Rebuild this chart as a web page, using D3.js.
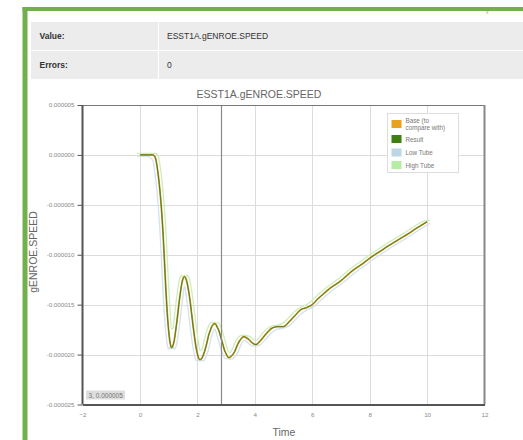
<!DOCTYPE html>
<html>
<head>
<meta charset="utf-8">
<script src="https://cdn.jsdelivr.net/npm/d3@7"></script>
<style>
  html, body { margin: 0; padding: 0; background: #fff; }
  svg { display: block; font-family: "Liberation Sans", Arial, sans-serif; }
</style>
</head>
<body>
<svg id="page" width="523" height="440"></svg>
<script>
// Result signal ESST1A.gENROE.SPEED
const times = [
  0.00, 0.25, 0.45, 0.50, 0.55, 0.60, 0.65, 0.70, 0.75, 0.80, 0.85, 0.90, 0.95, 1.00, 1.05,
  1.10, 1.15, 1.20, 1.25, 1.30, 1.35, 1.40, 1.45, 1.50, 1.55, 1.60, 1.65, 1.70, 1.75, 1.80,
  1.85, 1.90, 1.95, 2.00, 2.05, 2.09, 2.15, 2.20, 2.25, 2.30, 2.35, 2.40, 2.45, 2.50, 2.55,
  2.59, 2.65, 2.70, 2.75, 2.80, 2.85, 2.90, 2.95, 3.00, 3.05, 3.11, 3.20, 3.30, 3.40, 3.50,
  3.62, 3.70, 3.80, 3.90, 4.04, 4.20, 4.40, 4.60, 4.80, 5.00, 5.20, 5.40, 5.60, 5.80, 6.00,
  6.20, 6.40, 6.60, 6.80, 7.00, 7.20, 7.40, 7.60, 7.80, 8.00, 8.20, 8.40, 8.60, 8.80, 9.00,
  9.20, 9.40, 9.60, 9.80, 10.00
];
// values in units of 1e-6
const speedMicro = [
  0.0, 0.0, 0.0, -0.1, -0.4, -1.2, -2.3, -3.7, -5.4, -7.6, -10.4, -13.3, -15.8, -17.6, -18.8,
  -19.3, -19.1, -18.5, -17.5, -16.4, -15.1, -14.0, -13.0, -12.4, -12.2, -12.4, -12.9, -13.7, -14.7, -15.9,
  -17.1, -18.2, -19.2, -19.9, -20.4, -20.5, -20.4, -20.1, -19.7, -19.2, -18.6, -18.0, -17.6, -17.2, -17.0,
  -16.9, -17.0, -17.3, -17.6, -18.1, -18.6, -19.1, -19.6, -19.9, -20.2, -20.3, -20.1, -19.7, -19.0, -18.5,
  -18.2, -18.3, -18.5, -18.8, -19.0, -18.6, -17.9, -17.35, -17.2, -17.2, -16.7, -16.1, -15.5, -15.3, -15.0,
  -14.4, -13.9, -13.4, -13.0, -12.6, -12.1, -11.6, -11.2, -10.8, -10.35, -9.95, -9.6, -9.2, -8.85, -8.5,
  -8.15, -7.8, -7.4, -7.05, -6.7
];

// Tube tolerance (time window and value margin)
const tubeTime = 0.1;
const tubeValueMicro = 0.15;

const xTicks = [-2, 0, 2, 4, 6, 8, 10, 12];
const yTicks = [0.000005, 0, -0.000005, -0.00001, -0.000015, -0.00002, -0.000025];
const legendItems = ["Base (to compare with)", "Result", "Low Tube", "High Tube"];
const legendColors = ["#e9a21f", "#3f7f12", "#bcd6e4", "#b4eea4"];
const tableRows = [["Value:", "ESST1A.gENROE.SPEED"], ["Errors:", "0"]];
const cursorTime = 2.82;
const cursorLabel = "3, 0.000005";

const svg = d3.select("#page");

// ---- page frame ----
svg.append("rect").attr("x", 22.5).attr("y", 7).attr("width", 501).attr("height", 4).attr("fill", "#71b04d");
svg.append("rect").attr("x", 22.5).attr("y", 7).attr("width", 5).attr("height", 433).attr("fill", "#71b04d");

// ---- info table ----
const rowY = [22, 51];
const rowH = [28, 28];
tableRows.forEach((r, i) => {
  svg.append("rect").attr("x", 31).attr("y", rowY[i]).attr("width", 127).attr("height", rowH[i]).attr("fill", "#ececec");
  svg.append("rect").attr("x", 159).attr("y", rowY[i]).attr("width", 364).attr("height", rowH[i]).attr("fill", "#ececec");
  svg.append("text").attr("x", 39.5).attr("y", rowY[i] + 16.5).attr("font-size", 8.5).attr("font-weight", "bold")
    .attr("fill", "#333").text(r[0]);
  svg.append("text").attr("x", 167).attr("y", rowY[i] + 16.5).attr("font-size", 8.5)
    .attr("fill", "#333").text(r[1]);
});
svg.append("text").attr("x", 486).attr("y", 14).attr("font-size", 5).attr("fill", "#999").text("x");

// ---- chart ----
const plotLeft = 82.5, plotRight = 484.5, plotTop = 105, plotBottom = 404.5;
const x = d3.scaleLinear().domain([-2, 12]).range([plotLeft, plotRight]);
const y = d3.scaleLinear().domain([-0.000025, 0.000005]).range([plotBottom, plotTop]);

// grid
const g = svg.append("g");
g.selectAll("line.gx").data(xTicks.slice(1, -1)).join("line")
  .attr("x1", d => Math.round(x(d)) + 0.5).attr("x2", d => Math.round(x(d)) + 0.5)
  .attr("y1", plotTop).attr("y2", plotBottom).attr("stroke", "#dcdcdc").attr("stroke-width", 1);
g.selectAll("line.gy").data(yTicks.slice(1, -1)).join("line")
  .attr("x1", plotLeft).attr("x2", plotRight)
  .attr("y1", d => Math.round(y(d)) + 0.5).attr("y2", d => Math.round(y(d)) + 0.5)
  .attr("stroke", "#dcdcdc").attr("stroke-width", 1);

// title
svg.append("text").attr("x", 259).attr("y", 98).attr("text-anchor", "middle")
  .attr("font-size", 10.5).attr("fill", "#666").text("ESST1A.gENROE.SPEED");

// series
const result = times.map((t, i) => ({ t, v: speedMicro[i] * 1e-6 }));
function valueAt(t) {
  if (t <= times[0]) return speedMicro[0];
  if (t >= times[times.length - 1]) return speedMicro[speedMicro.length - 1];
  const i = d3.bisectRight(times, t) - 1;
  const f = (t - times[i]) / (times[i + 1] - times[i]);
  return speedMicro[i] + f * (speedMicro[i + 1] - speedMicro[i]);
}
function envelope(sign) {
  const pts = [];
  const first = times[0], last = times[times.length - 1];
  pts.push({ t: first - tubeTime, v: (speedMicro[0] + sign * tubeValueMicro) * 1e-6 });
  times.forEach(t => {
    const vals = [valueAt(t - tubeTime), valueAt(t), valueAt(t + tubeTime)];
    const e = sign > 0 ? d3.max(vals) : d3.min(vals);
    pts.push({ t, v: (e + sign * tubeValueMicro) * 1e-6 });
  });
  pts.push({ t: last + tubeTime, v: (speedMicro[speedMicro.length - 1] + sign * tubeValueMicro) * 1e-6 });
  return pts;
}
const lowTube = envelope(-1);
const highTube = envelope(1);

const line = d3.line().x(d => x(d.t)).y(d => y(d.v)).curve(d3.curveMonotoneX);
const plot = svg.append("g");
plot.append("path").datum(highTube).attr("d", line).attr("fill", "none").attr("stroke", "#cdeebc").attr("stroke-width", 1.3);
plot.append("path").datum(lowTube).attr("d", line).attr("fill", "none").attr("stroke", "#d2e2ee").attr("stroke-width", 1.3);
plot.append("path").datum(result).attr("d", line).attr("fill", "none").attr("stroke", "#c9a030").attr("stroke-width", 1.8);
plot.append("path").datum(result).attr("d", line).attr("fill", "none").attr("stroke", "#587a1c").attr("stroke-width", 1);

// cursor
svg.append("line").attr("x1", Math.round(x(cursorTime)) + 0.5).attr("x2", Math.round(x(cursorTime)) + 0.5)
  .attr("y1", plotTop).attr("y2", plotBottom).attr("stroke", "#8a8a8a").attr("stroke-width", 1.2);

// frame
svg.append("line").attr("x1", plotLeft).attr("x2", plotRight).attr("y1", plotTop + 0.5).attr("y2", plotTop + 0.5).attr("stroke", "#777").attr("stroke-width", 1);
svg.append("line").attr("x1", plotRight).attr("x2", plotRight).attr("y1", plotTop).attr("y2", plotBottom).attr("stroke", "#888").attr("stroke-width", 2);

// axes
const xAxis = d3.axisBottom(x).tickValues(xTicks).tickSize(0).tickPadding(8).tickFormat(d3.format("d"));
const yAxis = d3.axisLeft(y).tickValues(yTicks).tickSize(5).tickPadding(3).tickFormat(d => d3.format(".6f")(d).replace("−", "-"));
const gx = svg.append("g").attr("transform", `translate(0,${plotBottom})`).call(xAxis);
const gy = svg.append("g").attr("transform", `translate(${plotLeft},0)`).call(yAxis);
[gx, gy].forEach(a => {
  a.select(".domain").attr("stroke", "#555").attr("stroke-width", 2);
  a.selectAll(".tick line").attr("stroke", "#555");
  a.selectAll(".tick text").attr("fill", "#888").attr("font-size", 6.2).attr("font-family", "Liberation Sans, Arial, sans-serif");
});
gy.select(".domain").attr("d", `M0,${plotTop}V${plotBottom}`);

// axis titles
svg.append("text").attr("x", 284).attr("y", 436).attr("text-anchor", "middle").attr("font-size", 10.5).attr("fill", "#666").text("Time");
svg.append("text").attr("transform", "translate(36.5,252) rotate(-90)").attr("text-anchor", "middle")
  .attr("font-size", 10.5).attr("fill", "#666").text("gENROE.SPEED");

// cursor readout
svg.append("rect").attr("x", 86).attr("y", 390.5).attr("width", 39).attr("height", 9).attr("fill", "#dedede");
svg.append("text").attr("x", 88.5).attr("y", 397.5).attr("font-size", 6.5).attr("fill", "#777").text(cursorLabel);

// legend
const lg = svg.append("g").attr("transform", "translate(387.5,113.5)");
lg.append("rect").attr("width", 71).attr("height", 59).attr("fill", "#fff").attr("stroke", "#ddd");
const itemY = [6.5, 21.5, 35, 47.5];
legendItems.forEach((name, i) => {
  lg.append("rect").attr("x", 4).attr("y", itemY[i]).attr("width", 10).attr("height", 8).attr("fill", legendColors[i]);
  const txt = lg.append("text").attr("x", 18).attr("y", itemY[i] + 3).attr("font-size", 6.3).attr("fill", "#777");
  if (i === 0) {
    txt.append("tspan").attr("x", 18).attr("dy", 0).text("Base (to");
    txt.append("tspan").attr("x", 18).attr("dy", 6.8).text("compare with)");
  } else {
    txt.attr("y", itemY[i] + 6.5).text(name);
  }
});
</script>
</body>
</html>
